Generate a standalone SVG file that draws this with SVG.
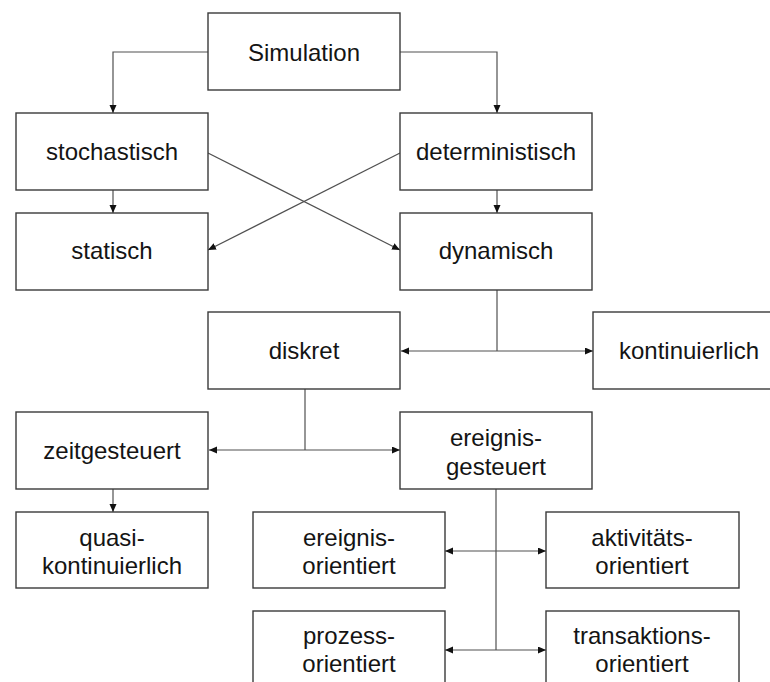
<svg xmlns="http://www.w3.org/2000/svg" width="770" height="682" viewBox="0 0 770 682">
  <style>
    .box rect { fill: #ffffff; stroke: #3a3a3a; stroke-width: 1.4; }
    .box text { font-family: "Liberation Sans", Arial, sans-serif; font-size: 24px; fill: #141414; text-anchor: middle; }
    .conn { fill: none; stroke: #505050; stroke-width: 1.2; }
  </style>
  <defs>
    <marker id="arrow" markerUnits="userSpaceOnUse" markerWidth="10" markerHeight="8" refX="8" refY="3.5" orient="auto-start-reverse">
      <path d="M0,0 L8,3.5 L0,7 Z" fill="#111111"/>
    </marker>
  </defs>

  <rect width="770" height="682" fill="#ffffff"/>

  <!-- connectors -->
  <g id="connectors">
    <path class="conn" d="M208,52 H113 V113" marker-end="url(#arrow)"/>
    <path class="conn" d="M400,52 H497 V113" marker-end="url(#arrow)"/>
    <path class="conn" d="M113,190 V213" marker-end="url(#arrow)"/>
    <path class="conn" d="M497,190 V213" marker-end="url(#arrow)"/>
    <path class="conn" d="M208,153 L400,250" marker-end="url(#arrow)"/>
    <path class="conn" d="M400,153 L208,250" marker-end="url(#arrow)"/>
    <path class="conn" d="M497,290 V351"/>
    <path class="conn" d="M401,351 H593" marker-start="url(#arrow)" marker-end="url(#arrow)"/>
    <path class="conn" d="M305,389 V450"/>
    <path class="conn" d="M209,450 H400" marker-start="url(#arrow)" marker-end="url(#arrow)"/>
    <path class="conn" d="M113,489 V512" marker-end="url(#arrow)"/>
    <path class="conn" d="M496,489 V650"/>
    <path class="conn" d="M445,551 H546" marker-start="url(#arrow)" marker-end="url(#arrow)"/>
    <path class="conn" d="M445,650 H546" marker-start="url(#arrow)" marker-end="url(#arrow)"/>
  </g>

  <!-- nodes -->
  <g id="simulation" class="box">
    <rect x="208" y="13" width="192" height="77"/>
    <text x="304" y="61">Simulation</text>
  </g>
  <g id="stochastisch" class="box">
    <rect x="16" y="113" width="192" height="77"/>
    <text x="112" y="160">stochastisch</text>
  </g>
  <g id="deterministisch" class="box">
    <rect x="400" y="113" width="192" height="77"/>
    <text x="496" y="160">deterministisch</text>
  </g>
  <g id="statisch" class="box">
    <rect x="16" y="213" width="192" height="77"/>
    <text x="112" y="259">statisch</text>
  </g>
  <g id="dynamisch" class="box">
    <rect x="400" y="213" width="192" height="77"/>
    <text x="496" y="259">dynamisch</text>
  </g>
  <g id="diskret" class="box">
    <rect x="208" y="312" width="192" height="77"/>
    <text x="304" y="359">diskret</text>
  </g>
  <g id="kontinuierlich" class="box">
    <rect x="593" y="312" width="193" height="77"/>
    <text x="689" y="359">kontinuierlich</text>
  </g>
  <g id="zeitgesteuert" class="box">
    <rect x="16" y="412" width="192" height="77"/>
    <text x="112" y="459">zeitgesteuert</text>
  </g>
  <g id="ereignisgesteuert" class="box">
    <rect x="400" y="412" width="192" height="77"/>
    <text x="496" y="446">ereignis-</text>
    <text x="496" y="475">gesteuert</text>
  </g>
  <g id="quasikontinuierlich" class="box">
    <rect x="16" y="512" width="192" height="76"/>
    <text x="112" y="546">quasi-</text>
    <text x="112" y="574">kontinuierlich</text>
  </g>
  <g id="ereignisorientiert" class="box">
    <rect x="253" y="512" width="192" height="76"/>
    <text x="349" y="546">ereignis-</text>
    <text x="349" y="574">orientiert</text>
  </g>
  <g id="aktivitaetsorientiert" class="box">
    <rect x="546" y="512" width="193" height="76"/>
    <text x="642" y="546">aktivitäts-</text>
    <text x="642" y="574">orientiert</text>
  </g>
  <g id="prozessorientiert" class="box">
    <rect x="253" y="611" width="192" height="77"/>
    <text x="349" y="644">prozess-</text>
    <text x="349" y="672">orientiert</text>
  </g>
  <g id="transaktionsorientiert" class="box">
    <rect x="546" y="611" width="193" height="77"/>
    <text x="642" y="644">transaktions-</text>
    <text x="642" y="672">orientiert</text>
  </g>
</svg>
